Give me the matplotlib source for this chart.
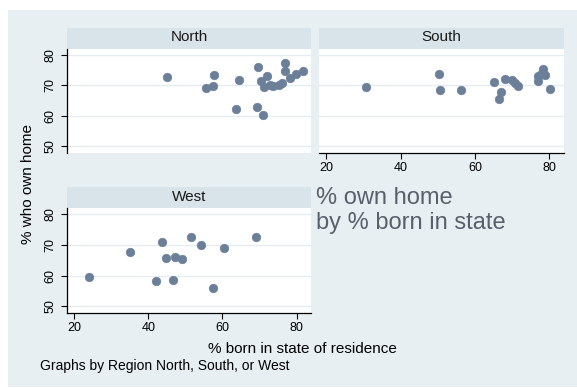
import matplotlib
matplotlib.use("Agg")
import matplotlib.pyplot as plt
from matplotlib.patches import Rectangle

plt.rcParams['font.family'] = ['Liberation Sans', 'DejaVu Sans']

# ---- data ----
north_born = [44.96, 55.47, 57.36, 57.81, 64.54, 63.73, 69.66, 69.39, 70.83, 70.29,
              71.19, 72.08, 72.89, 73.6, 75.23, 76.12, 76.75, 76.93, 78.19, 79.72, 81.78]
north_own = [72.66, 69.05, 69.70, 73.43, 71.79, 62.26, 75.95, 62.91, 60.18, 71.46,
             69.6, 73.10, 70.03, 69.9, 70.25, 70.80, 77.48, 74.85, 72.44, 73.65, 74.63]

south_born = [30.78, 50.35, 50.44, 56.10, 64.99, 66.96, 66.34, 67.95, 69.93, 70.7,
              71.54, 76.84, 77.02, 78.37, 78.91, 80.17, 77.9]
south_own = [69.49, 73.65, 68.61, 68.61, 71.24, 67.84, 65.43, 72.0, 71.79, 70.7,
             69.81, 73.10, 71.46, 75.29, 73.32, 68.83, 74.0]

west_born = [24.04, 35.0, 43.8, 42.09, 44.87, 47.12, 49.1, 46.58, 51.61, 54.21,
             57.54, 60.41, 69.03]
west_own = [59.41, 67.84, 70.91, 58.09, 65.87, 65.98, 65.32, 58.64, 72.55, 70.03,
            56.01, 68.94, 72.66]

regions = ["North", "South", "West"]
x_ticks = [20, 40, 60, 80]
y_ticks = [50, 60, 70, 80]
y_title = "% who own home"
x_title = "% born in state of residence"
note = "Graphs by Region North, South, or West"
caption = ["% own home", "by % born in state"]

# ---- style ----
W, H = 577, 388
BG = "#e8eff2"
STRIP = "#d9e3ea"
GRID = "#e6edf1"
MARK = "#6b7f99"
XLIM = (18.1, 83.9)
YLIM = (47.7, 81.97)

fig = plt.figure(figsize=(W / 100, H / 100), dpi=100)
fig.patch.set_facecolor("white")
fig.add_artist(Rectangle((8 / W, 1 - 387 / H), 1 - 8 / W, (387 - 9.5) / H,
                         transform=fig.transFigure, facecolor=BG, edgecolor="none", zorder=0))


def box(x0, x1, y0, y1):
    return [x0 / W, 1 - y1 / H, (x1 - x0) / W, (y1 - y0) / H]


panels = {
    "North": dict(ax=box(67.3, 311, 49, 153.3), strip=box(67.3, 311, 28.3, 49), base=41.0,
                  left=True, bottom=False, xs=north_born, ys=north_own),
    "South": dict(ax=box(319.3, 564, 49, 153.3), strip=box(319.3, 564, 28.3, 49), base=41.0,
                  left=False, bottom=True, xs=south_born, ys=south_own),
    "West": dict(ax=box(67.3, 311, 208.3, 313.3), strip=box(67.3, 311, 187.3, 208.3), base=200.7,
                 left=True, bottom=True, xs=west_born, ys=west_own),
}

for name in regions:
    p = panels[name]
    sax = fig.add_axes(p["strip"])
    sax.set_facecolor(STRIP)
    sax.set_xticks([]); sax.set_yticks([])
    for s in sax.spines.values():
        s.set_visible(False)
    sb = p["strip"]
    fig.text(sb[0] + sb[2] / 2, 1 - p["base"] / H, name, ha="center", va="baseline",
             fontsize=11, color="#1a1a1a")

    ax = fig.add_axes(p["ax"])
    ax.set_facecolor("white")
    ax.set_xlim(*XLIM)
    ax.set_ylim(*YLIM)
    for y in y_ticks:
        ax.axhline(y, color=GRID, lw=1.0, zorder=1)
    ax.scatter(p["xs"], p["ys"], s=40, color=MARK, edgecolors=MARK, linewidths=0.3, zorder=3)
    for side in ["top", "right"]:
        ax.spines[side].set_visible(False)
    ax.spines["left"].set_visible(p["left"])
    ax.spines["bottom"].set_visible(p["bottom"])
    for side in ["left", "bottom"]:
        ax.spines[side].set_linewidth(0.9)
    if p["left"]:
        ax.set_yticks(y_ticks)
        ax.set_yticklabels([str(v) for v in y_ticks], rotation=90, va="center")
        ax.tick_params(axis="y", length=4, width=0.8, labelsize=9, pad=4)
    else:
        ax.set_yticks([])
    if p["bottom"]:
        ax.set_xticks(x_ticks)
        ax.set_xticklabels([str(v) for v in x_ticks])
        ax.tick_params(axis="x", length=4, width=0.8, labelsize=9, pad=2.5)
    else:
        ax.set_xticks([])

fig.text(28.5 / W, 1 - 184 / H, y_title, rotation=90, ha="center", va="center", fontsize=11)
fig.text(302.5 / W, 1 - 353.3 / H, x_title, ha="center", va="baseline", fontsize=11)
fig.text(40 / W, 1 - 370 / H, note, ha="left", va="baseline", fontsize=10)
fig.text(316.5 / W, 1 - 204 / H, caption[0], ha="left", va="baseline", fontsize=17, color="#5a5f6c")
fig.text(316.5 / W, 1 - 228.5 / H, caption[1], ha="left", va="baseline", fontsize=17, color="#5a5f6c")

fig.savefig("out.png", dpi=100, facecolor=fig.get_facecolor())
